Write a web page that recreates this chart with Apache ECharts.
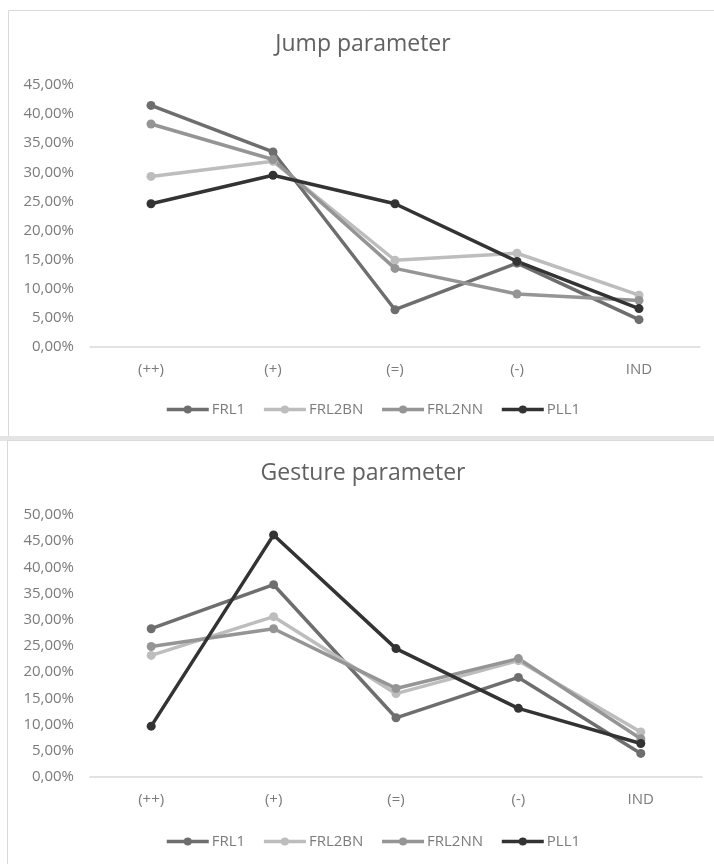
<!DOCTYPE html>
<html>
<head>
<meta charset="utf-8">
<script src="https://cdn.jsdelivr.net/npm/echarts@6/dist/echarts.min.js"></script>
<style>
  html, body { margin: 0; padding: 0; background: #fff; overflow: hidden; }
  #chart { width: 714px; height: 864px; }
</style>
</head>
<body>
<div id="chart"></div>
<script>
// Response categories on the x axis
const categories = ['(++)', '(+)', '(=)', '(-)', 'IND'];
const seriesNames = ['FRL1', 'FRL2BN', 'FRL2NN', 'PLL1'];

// Jump parameter (percent)
const jumpFRL1   = [41.5, 33.5, 6.4, 14.4, 4.7];
const jumpFRL2BN = [29.3, 31.9, 14.9, 16.1, 8.9];
const jumpFRL2NN = [38.3, 32.2, 13.5, 9.1, 8.0];
const jumpPLL1   = [24.6, 29.5, 24.6, 14.7, 6.6];

// Gesture parameter (percent)
const gestureFRL1   = [28.3, 36.7, 11.3, 19.0, 4.5];
const gestureFRL2BN = [23.2, 30.6, 15.9, 22.2, 8.6];
const gestureFRL2NN = [24.9, 28.3, 16.9, 22.6, 7.3];
const gesturePLL1   = [9.7, 46.2, 24.5, 13.1, 6.4];

const jumpMax = 45;
const gestureMax = 50;
const tickStep = 5;

const colors = ['#6e6e6e', '#bdbdbd', '#959595', '#333333'];
const font = '"Open Sans", sans-serif';
const labelColor = '#7b7b7b';

const pct = v => v.toFixed(2).replace('.', ',') + '%';

function lineSeries(name, data, idx, color) {
  return {
    name: name,
    type: 'line',
    xAxisIndex: idx,
    yAxisIndex: idx,
    data: data,
    symbol: 'circle',
    symbolSize: 9,
    lineStyle: { width: 3.5, color: color },
    itemStyle: { color: color },
    emphasis: { disabled: true },
    animation: false
  };
}

const jumpData = [jumpFRL1, jumpFRL2BN, jumpFRL2NN, jumpPLL1];
const gestureData = [gestureFRL1, gestureFRL2BN, gestureFRL2NN, gesturePLL1];

const series = [];
seriesNames.forEach((n, i) => series.push(lineSeries(n, jumpData[i], 0, colors[i])));
seriesNames.forEach((n, i) => series.push(lineSeries(n, gestureData[i], 1, colors[i])));

function xAxisDef(idx) {
  return {
    type: 'category',
    gridIndex: idx,
    data: categories,
    boundaryGap: true,
    axisLine: { lineStyle: { color: '#d9d9d9', width: 1.5 } },
    axisTick: { show: false },
    axisLabel: { color: labelColor, fontFamily: font, fontSize: 15, margin: 15 }
  };
}
function yAxisDef(idx, max) {
  return {
    type: 'value',
    gridIndex: idx,
    min: 0,
    max: max,
    interval: tickStep,
    axisLine: { show: false },
    axisTick: { show: false },
    splitLine: { show: false },
    axisLabel: { color: labelColor, fontFamily: font, fontSize: 15, margin: 16, formatter: pct }
  };
}
function legendDef(top) {
  return {
    data: seriesNames,
    top: top,
    left: 160,
    itemWidth: 42,
    itemHeight: 10,
    itemGap: 17,
    selectedMode: false,
    lineStyle: { width: 3.5 },
    textStyle: { color: labelColor, fontFamily: font, fontSize: 15, padding: [0, 0, 0, -2] }
  };
}

const chart = echarts.init(document.getElementById('chart'), null, { renderer: 'canvas' });
chart.setOption({
  backgroundColor: '#ffffff',
  animation: false,
  title: [
    { text: 'Jump parameter', left: 363, top: 33, textAlign: 'center', padding: 0,
      textStyle: { fontFamily: font, fontSize: 23, fontWeight: 'normal', color: '#616161' } },
    { text: 'Gesture parameter', left: 363, top: 462, textAlign: 'center', padding: 0,
      textStyle: { fontFamily: font, fontSize: 23, fontWeight: 'normal', color: '#616161' } }
  ],
  legend: [legendDef(397), legendDef(829)],
  grid: [
    { left: 90, top: 85, width: 610, height: 262 },
    { left: 90, top: 515, width: 612, height: 262 }
  ],
  xAxis: [xAxisDef(0), xAxisDef(1)],
  yAxis: [yAxisDef(0, jumpMax), yAxisDef(1, gestureMax)],
  series: series,
  graphic: [
    { type: 'rect', silent: true, z: -10,
      shape: { x: 8.5, y: 10.5, width: 720, height: 427 },
      style: { fill: 'none', stroke: '#d9d9d9', lineWidth: 1 } },
    { type: 'rect', silent: true, z: -10,
      shape: { x: 0, y: 436, width: 714, height: 5 },
      style: { fill: '#e4e4e4' } },
    { type: 'rect', silent: true, z: -10,
      shape: { x: 7.5, y: 440.5, width: 720, height: 440 },
      style: { fill: 'none', stroke: '#d9d9d9', lineWidth: 1 } }
  ]
});
</script>
</body>
</html>
